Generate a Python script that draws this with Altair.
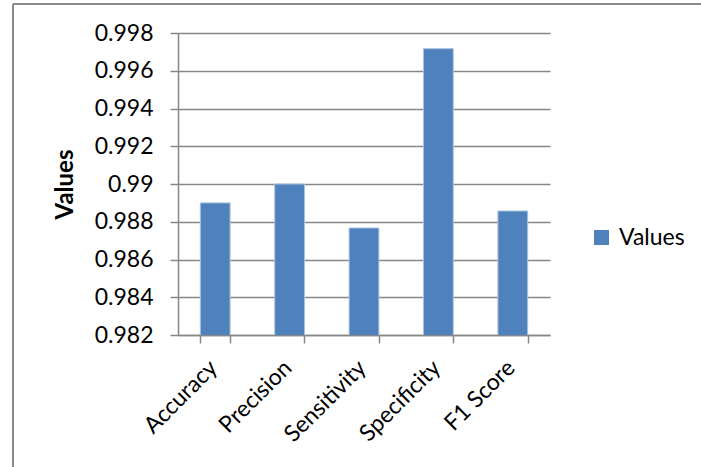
import altair as alt
import pandas as pd

categories = ["Accuracy", "Precision", "Sensitivity", "Specificity", "F1 Score"]
values = [0.9890, 0.9900, 0.98767, 0.99717, 0.98857]
series = ["Values"] * len(categories)
y_ticks = [0.982, 0.984, 0.986, 0.988, 0.990, 0.992, 0.994, 0.996, 0.998]

df = pd.DataFrame({"Metric": categories, "Value": values, "Series": series})

FONT = "Lato"
GRID = "#878787"

bars = alt.Chart(df).mark_bar(clip=True, color="#4F81BD", stroke="#a9c2e3", strokeWidth=1).encode(
    x=alt.X(
        "Metric:N",
        sort=categories,
        scale=alt.Scale(paddingInner=0.6, paddingOuter=0.3),
        axis=alt.Axis(
            title=None,
            labelAngle=-45,
            labelAlign="right",
            labelBaseline="middle",
            labelFont=FONT,
            labelFontSize=23,
            labelColor="#000000",
            labelPadding=21,
            labelOffset=-2,
            tickBand="extent",
            tickSize=8,
            tickColor=GRID,
            tickWidth=1.5,
            domainColor=GRID,
            domainWidth=1.5,
            grid=False,
        ),
    ),
    y=alt.Y(
        "Value:Q",
        scale=alt.Scale(domain=[0.982, 0.998], zero=False, nice=False),
        axis=alt.Axis(
            values=y_ticks,
            format=".3~f",
            title="Values",
            titleFont=FONT,
            titleFontSize=24,
            titleFontWeight="bold",
            titleColor="#000000",
            titleAngle=-90,
            titleX=-113,
            titleY=151,
            titleAlign="center",
            titleBaseline="middle",
            labelFont=FONT,
            labelFontSize=23,
            labelColor="#000000",
            labelPadding=17,
            tickSize=8,
            tickColor=GRID,
            tickWidth=1.5,
            domainColor=GRID,
            domainWidth=1.5,
            gridColor=GRID,
            gridWidth=1.5,
        ),
    ),
    color=alt.Color(
        "Series:N",
        scale=alt.Scale(domain=["Values"], range=["#4F81BD"]),
        legend=alt.Legend(
            title=None,
            orient="none",
            legendX=412,
            legendY=193,
            symbolType="square",
            symbolSize=225,
            symbolStrokeWidth=0,
            labelFont=FONT,
            labelFontSize=23,
            labelColor="#000000",
            labelOffset=6,
        ),
    ),
)

frame_left = alt.Chart(df).mark_rule(color="#8a8a8a", strokeWidth=2).encode(
    x=alt.value(-165), y=alt.value(-29), y2=alt.value(440)
)
frame_top = alt.Chart(df).mark_rule(color="#8a8a8a", strokeWidth=2).encode(
    x=alt.value(-165), x2=alt.value(530), y=alt.value(-29)
)

chart = alt.layer(bars, frame_left, frame_top).properties(
    width=372,
    height=302,
    autosize=alt.AutoSizeParams(type="none"),
    padding={"left": 178, "top": 33, "right": 151, "bottom": 132},
    background="white",
).configure_view(stroke=None)

chart.save("out.html", embed_options={"renderer": "svg", "actions": False})
